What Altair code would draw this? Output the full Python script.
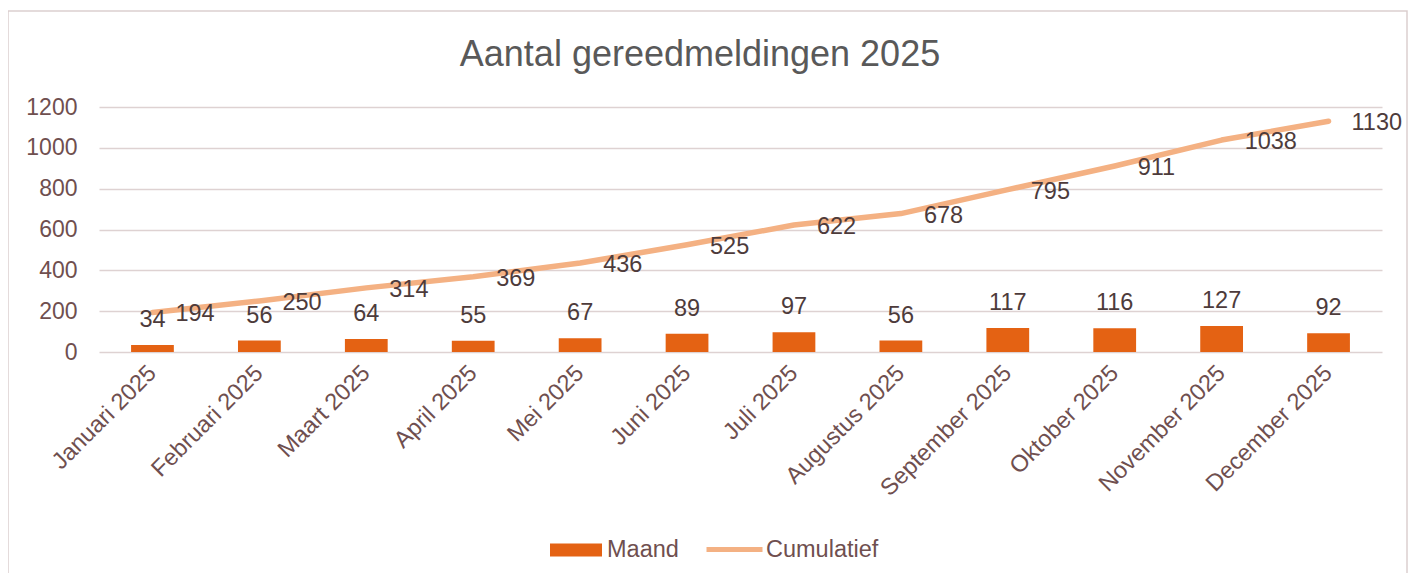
import altair as alt
import pandas as pd

months = ["Januari 2025", "Februari 2025", "Maart 2025", "April 2025", "Mei 2025",
          "Juni 2025", "Juli 2025", "Augustus 2025", "September 2025", "Oktober 2025",
          "November 2025", "December 2025"]
maand = [34, 56, 64, 55, 67, 89, 97, 56, 117, 116, 127, 92]
cumulatief = [194, 250, 314, 369, 436, 525, 622, 678, 795, 911, 1038, 1130]
y_ticks = [0, 200, 400, 600, 800, 1000, 1200]
title_text = "Aantal gereedmeldingen 2025"

df = pd.DataFrame({"maand_naam": months, "Maand": maand, "Cumulatief": cumulatief})
df["s_bar"] = "Maand"
df["s_line"] = "Cumulatief"

FONT = "Liberation Sans"
BAR = "#E46213"
LINE = "#F4B183"
AXIS_TXT = "#6f4f4f"
LBL_TXT = "#4d3b3b"
GRID = "#ded2d2"

W, H = 1283, 245

x = alt.X("maand_naam:N", sort=months, title=None,
          scale=alt.Scale(paddingInner=0.6, paddingOuter=0.3),
          axis=alt.Axis(labelAngle=-45, labelAlign="right", labelBaseline="middle",
                        labelPadding=17, ticks=False, tickSize=0, domain=False,
                        labelFontSize=23.5, labelColor=AXIS_TXT, labelFont=FONT,
                        grid=False, labelOverlap=False))
yscale = alt.Scale(domain=[0, 1200], nice=False)

base = alt.Chart(df)

bars = base.mark_bar().encode(
    x=x,
    y=alt.Y("Maand:Q", scale=yscale, title=None,
            axis=alt.Axis(values=y_ticks, format="d", ticks=False, tickSize=0, domain=False,
                          labelPadding=22, labelFontSize=23, labelColor=AXIS_TXT,
                          labelFont=FONT, gridColor=GRID, gridWidth=1.5)),
    fill=alt.Fill("s_bar:N", title=None,
                  scale=alt.Scale(domain=["Maand"], range=[BAR]),
                  legend=alt.Legend(orient="none", legendX=450, legendY=416,
                                    symbolType="M-1,-0.25H1V0.25H-1Z", symbolSize=2704,
                                    labelFontSize=23.5, labelColor=AXIS_TXT, labelFont=FONT,
                                    labelOffset=4)),
)

bar_lbl = base.mark_text(dy=-25, fontSize=23.5, font=FONT, color=LBL_TXT,
                         baseline="middle", align="center").encode(
    x=x, y=alt.Y("Maand:Q", scale=yscale), text="Maand:Q")

line = base.mark_line(strokeWidth=5.5, strokeCap="round", strokeJoin="round").encode(
    x=x,
    y=alt.Y("Cumulatief:Q", scale=yscale),
    stroke=alt.Stroke("s_line:N", title=None,
                      scale=alt.Scale(domain=["Cumulatief"], range=[LINE]),
                      legend=alt.Legend(orient="none", legendX=605, legendY=412,
                                        symbolType="stroke", symbolSize=3136,
                                        symbolStrokeWidth=5,
                                        labelFontSize=23.5, labelColor=AXIS_TXT, labelFont=FONT,
                                        labelOffset=1)),
)

line_lbl = base.mark_text(dx=23, dy=2, fontSize=23.5, font=FONT, color=LBL_TXT,
                          baseline="middle", align="left").encode(
    x=x, y=alt.Y("Cumulatief:Q", scale=yscale), text="Cumulatief:Q")

border = alt.Chart(alt.Data(values=[{"a": 1}])).mark_rect(
    fill=None, stroke="#dbcfcf", strokeWidth=1.5).encode(
    x=alt.value(-91), x2=alt.value(1308), y=alt.value(-96), y2=alt.value(480))

title = alt.Chart(alt.Data(values=[{"t": title_text}])).mark_text(
    fontSize=36, font=FONT, color="#595959", align="center", baseline="alphabetic").encode(
    x=alt.value(601), y=alt.value(-41), text="t:N")

chart = alt.layer(border, title, bars, line, bar_lbl, line_lbl).resolve_scale(
    fill="independent", stroke="independent"
).properties(
    width=W, height=H,
    autosize=alt.AutoSizeParams(type="none"),
    padding={"left": 91, "top": 99, "right": 26, "bottom": 221},
).configure(background="white").configure_view(stroke=None)

chart.save("out.html", embed_options={"renderer": "svg", "actions": False})
